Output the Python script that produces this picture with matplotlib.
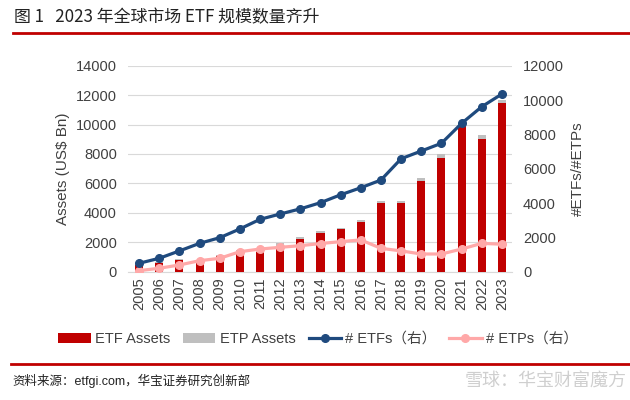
import matplotlib
matplotlib.use('Agg')
import matplotlib.pyplot as plt
import numpy as np

plt.rcParams['font.family'] = ['Liberation Sans', 'Noto Sans CJK SC']

# data
years = [str(y) for y in range(2005, 2024)]
etf_assets = [455, 570, 800, 716, 1036, 1313, 1355, 1754, 2220, 2650, 2870, 3380,
              4650, 4650, 6160, 7730, 9900, 9040, 11450]
etp_assets = [500, 640, 860, 780, 1150, 1480, 1530, 1970, 2340, 2760, 2980, 3510,
              4800, 4800, 6370, 8000, 10040, 9270, 11670]
n_etfs = [490, 780, 1210, 1650, 1980, 2490, 3050, 3360, 3660, 4020, 4480, 4890,
          5340, 6580, 7030, 7480, 8640, 9610, 10350]
n_etps = [60, 200, 390, 640, 780, 1165, 1320, 1420, 1515, 1640, 1750, 1850,
          1360, 1210, 1030, 1030, 1320, 1650, 1600]

red = '#C00000'
grey = '#BFBFBF'
navy = '#1F4A7E'
pink = '#FFA8A8'

fig = plt.figure(figsize=(6.3, 4.0), dpi=100)
ax = fig.add_axes([0.2032, 0.3208, 0.6095, 0.515])
x = np.arange(len(years))

b1 = ax.bar(x, etp_assets, width=0.4, color=grey, zorder=2)
b0 = ax.bar(x, etf_assets, width=0.4, color=red, zorder=3)
ax.set_ylim(0, 14000)
ax.set_yticks(range(0, 14001, 2000))
ax.set_xlim(-0.55, 18.5)
ax.set_xticks(x)
ax.set_xticklabels(years, rotation=90, fontsize=10.5, color='#404040')
ax.tick_params(axis='y', labelsize=10.5, labelcolor='#404040', length=0, pad=8)
ax.tick_params(axis='x', length=0, pad=4)
ax.grid(axis='y', color='#D9D9D9', linewidth=0.8, zorder=0)
ax.set_axisbelow(True)
for s in ['top', 'right', 'left']:
    ax.spines[s].set_visible(False)
ax.spines['bottom'].set_color('#D9D9D9')
ax.set_ylabel('Assets (US$ Bn)', fontsize=11, color='#404040', labelpad=4)

ax2 = ax.twinx()
l1, = ax2.plot(x, n_etfs, color=navy, lw=2.3, marker='o', ms=5.5, zorder=5)
l2, = ax2.plot(x, n_etps, color=pink, lw=2.3, marker='o', ms=5.5, zorder=4)
ax2.set_ylim(0, 12000)
ax2.set_yticks(range(0, 12001, 2000))
ax2.tick_params(axis='y', labelsize=10.5, labelcolor='#404040', length=0, pad=8)
for s in ['top', 'right', 'left', 'bottom']:
    ax2.spines[s].set_visible(False)
ax2.set_ylabel('#ETFs/#ETPs', fontsize=11, color='#404040', labelpad=5)

fig.legend([b0, b1, l1, l2], ['ETF Assets', 'ETP Assets', '# ETFs（右）', '# ETPs（右）'],
           loc='center', bbox_to_anchor=(0.505, 0.153), ncol=4, frameon=False,
           fontsize=10.5, handlelength=2.2, columnspacing=0.9, handletextpad=0.3,
           labelcolor='#404040')

# title, rules, source
fig.text(0.022, 0.957, '图 1   2023 年全球市场 ETF 规模数量齐升', fontsize=12.2,
         family=['Noto Sans CJK SC'], va='center', ha='left', color='#222222')
fig.add_artist(plt.Line2D([0.02, 1.0], [0.917, 0.917], color=red, lw=2))
fig.add_artist(plt.Line2D([0.018, 1.0], [0.089, 0.089], color=red, lw=2))
fig.text(0.02, 0.047, '资料来源：etfgi.com，华宝证券研究创新部', fontsize=9,
         va='center', ha='left', color='#222222')
fig.text(0.995, 0.047, '雪球：华宝财富魔方', fontsize=13, family=['Noto Sans CJK SC'],
         va='center', ha='right', color='#CFCFCF')

fig.savefig('out.png', dpi=100)
